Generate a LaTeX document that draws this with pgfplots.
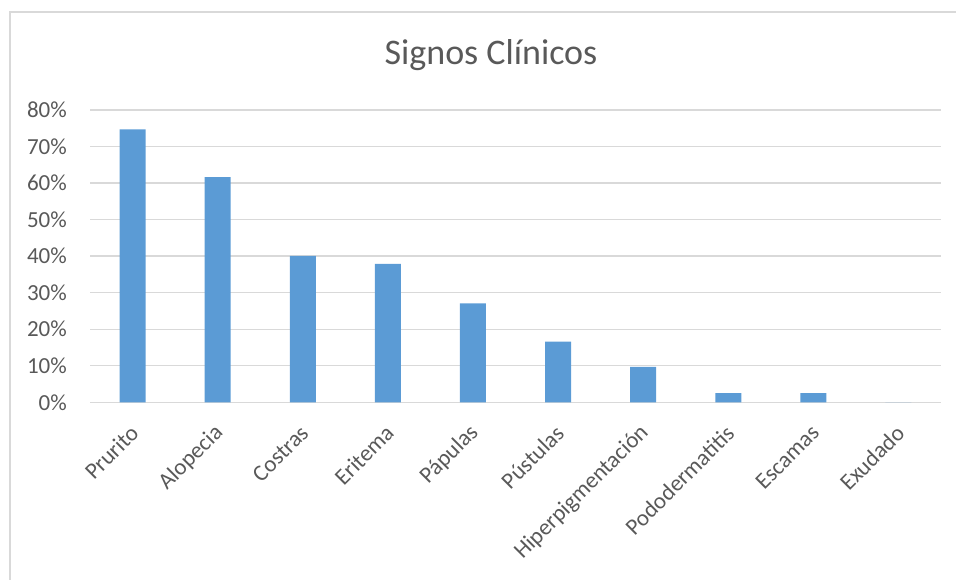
\documentclass[border=0pt]{standalone}
\usepackage{fontspec}
\setmainfont{Carlito}
\usepackage{pgfplots}
\pgfplotsset{compat=1.18}
\definecolor{barblue}{HTML}{5B9BD5}
\definecolor{gridgray}{HTML}{D9D9D9}
\definecolor{txtgray}{HTML}{595959}
\begin{document}
\begin{tikzpicture}[x=1pt,y=1pt]
\useasboundingbox (0,0) rectangle (956,580);
\draw[gridgray, line width=1.2pt] (10,0) -- (10,568) -- (956,568);
\node[anchor=base, text=txtgray, font=\fontsize{36}{40}\selectfont, inner sep=0pt] at (491,515) {Signos Clínicos};
\begin{axis}[
 at={(90pt,177.7pt)}, anchor=south west, scale only axis,
 width=851pt, height=292.3pt,
 ymin=0, ymax=80, xmin=-0.5, xmax=9.5,
 ytick={0,10,...,80},
 yticklabel={\pgfmathprintnumber{\tick}\%},
 ymajorgrids, grid style={gridgray, line width=1.3pt},
 axis line style={draw=none},
 major tick length=0pt,
 xtick={0,...,9},
 xticklabels={Prurito, Alopecia, Costras, Eritema, Pápulas, Pústulas, Hiperpigmentación, Pododermatitis, Escamas, Exudado},
 ticklabel style={text=txtgray, font=\fontsize{23}{27}\selectfont},
 yticklabel style={anchor=east, inner sep=0pt, xshift=-23pt},
 xticklabel style={xshift=2pt, yshift=-27pt, rotate=45, anchor=east, inner sep=0pt},
 /pgf/number format/assume math mode=true,
]
\addplot[ybar, bar width=26pt, fill=barblue, draw=none] coordinates {
 (0,74.7) (1,61.6) (2,40.1) (3,37.9) (4,27.1) (5,16.6) (6,9.7) (7,2.5) (8,2.5) (9,0)
};
\end{axis}
\end{tikzpicture}
\end{document}
